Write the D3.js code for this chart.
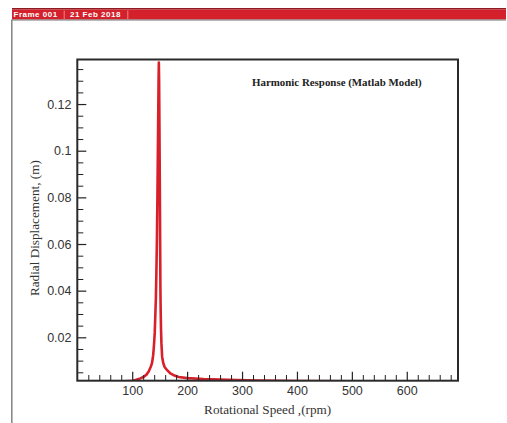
<!DOCTYPE html>
<html>
<head>
<meta charset="utf-8">
<script src="https://cdn.jsdelivr.net/npm/d3@7"></script>
<style>
  html, body { margin: 0; padding: 0; background: #fff; }
  svg { display: block; }
</style>
</head>
<body>
<svg id="chart" width="507" height="423"></svg>
<script>
// Harmonic response: radial displacement vs rotational speed
const rpm = [0, 40, 80, 100, 106, 115, 121, 126, 130, 134, 136, 138, 139, 140, 141, 142, 143, 144, 145, 146, 147, 148, 148.5,
             149, 149.6, 150.3, 150.9, 151.4, 151.8, 152.4, 153.2, 154.5, 156.5, 159, 164, 169.6, 177, 184.7, 200, 230, 260, 291, 330, 400, 500, 600, 693];
const displacement = [0.0004, 0.0006, 0.0010, 0.0014, 0.0017, 0.0024, 0.0031, 0.0040, 0.0053, 0.0075, 0.0089, 0.0120, 0.0146, 0.0180, 0.0219, 0.0288, 0.0360, 0.0470, 0.0620, 0.0820, 0.1060, 0.1300, 0.1378,
             0.1300, 0.1100, 0.0850, 0.0600, 0.0400, 0.0320, 0.0240, 0.0175, 0.0117, 0.0090, 0.0073, 0.0058, 0.0045, 0.0036, 0.0030, 0.0025, 0.0021, 0.0019, 0.0017, 0.0015, 0.0013, 0.0011, 0.0010, 0.0009];

const xMajorTicks = [100, 200, 300, 400, 500, 600];
const yMajorTicks = [0.02, 0.04, 0.06, 0.08, 0.1, 0.12];
const yTickLabels = ["0.02", "0.04", "0.06", "0.08", "0.1", "0.12"];

const frameLabel = "Frame 001";
const dateLabel = "21 Feb 2018";
const title = "Harmonic Response (Matlab Model)";
const xTitle = "Rotational Speed ,(rpm)";
const yTitle = "Radial Displacement, (m)";

const svg = d3.select("#chart");

// plot box
const L = 77.3, R = 458, T = 59.5, B = 380.7;

const x = d3.scaleLinear().domain([0, 693.3]).range([L, R]);
const y = d3.scaleLinear().domain([0.0014, 0.1391]).range([B, T]);

// frame header bar
const hdr = svg.append("g");
hdr.append("rect").attr("x", 12).attr("y", 8).attr("width", 494).attr("height", 1.6).attr("fill", "#8e1b21");
hdr.append("rect").attr("x", 12).attr("y", 9.6).attr("width", 494).attr("height", 10).attr("fill", "#d4202a");
hdr.append("rect").attr("x", 12).attr("y", 19.4).attr("width", 494).attr("height", 1.2).attr("fill", "#8a8a8a");
hdr.append("line").attr("x1", 11.8).attr("x2", 11.8).attr("y1", 19.4).attr("y2", 423)
  .attr("stroke", "#8a8a8a").attr("stroke-width", 1.6);
[64.2, 127.8].forEach(sx => {
  hdr.append("line").attr("x1", sx).attr("x2", sx).attr("y1", 10.5).attr("y2", 19)
    .attr("stroke", "#f0a0a4").attr("stroke-width", 0.8);
});
hdr.append("text").attr("x", 13.5).attr("y", 17.4).text(frameLabel)
  .attr("font-family", "Liberation Sans, Arial, sans-serif").attr("font-weight", "bold")
  .attr("font-size", 8).attr("letter-spacing", 0.5).attr("fill", "#fff");
hdr.append("text").attr("x", 70).attr("y", 17.4).text(dateLabel)
  .attr("font-family", "Liberation Sans, Arial, sans-serif").attr("font-weight", "bold")
  .attr("font-size", 8).attr("letter-spacing", 0.5).attr("fill", "#fff");

// curve, clipped to the plot box
svg.append("clipPath").attr("id", "plotclip")
  .append("rect").attr("x", L).attr("y", T).attr("width", R - L).attr("height", B - T);

const pts = rpm.map((r, i) => [r, displacement[i]]);
const line = d3.line().x(d => x(d[0])).y(d => y(d[1]));
svg.append("path").datum(pts)
  .attr("clip-path", "url(#plotclip)")
  .attr("d", line)
  .attr("fill", "none")
  .attr("stroke", "#d8202b")
  .attr("stroke-width", 2.6)
  .attr("stroke-linejoin", "round");

// axes with inward ticks
const tickColor = "#222";
const xMinor = d3.range(20, 693, 20).filter(v => v % 100 !== 0);
const yMinor = d3.range(1, 28).map(i => i * 0.005).filter(v => Math.abs(v / 0.02 - Math.round(v / 0.02)) > 1e-6 && v < 0.139);

const xAxisMajor = d3.axisBottom(x).tickValues(xMajorTicks).tickSize(-9).tickPadding(5).tickFormat(d3.format("d"));
const gx = svg.append("g").attr("transform", `translate(0,${B})`).call(xAxisMajor);
gx.select(".domain").remove();
gx.selectAll(".tick line").attr("stroke", tickColor).attr("stroke-width", 1.2);
gx.selectAll(".tick text").attr("font-family", "Liberation Sans, Arial, sans-serif")
  .attr("font-size", 12.5).attr("fill", "#333");

const gxm = svg.append("g").attr("transform", `translate(0,${B})`)
  .call(d3.axisBottom(x).tickValues(xMinor).tickSize(-5.7).tickFormat(""));
gxm.select(".domain").remove();
gxm.selectAll(".tick line").attr("stroke", tickColor).attr("stroke-width", 1);

const yAxisMajor = d3.axisLeft(y).tickValues(yMajorTicks).tickSize(-9).tickPadding(5.8)
  .tickFormat((d, i) => yTickLabels[i]);
const gy = svg.append("g").attr("transform", `translate(${L},0)`).call(yAxisMajor);
gy.select(".domain").remove();
gy.selectAll(".tick line").attr("stroke", tickColor).attr("stroke-width", 1.2);
gy.selectAll(".tick text").attr("font-family", "Liberation Sans, Arial, sans-serif")
  .attr("font-size", 12.5).attr("fill", "#333");

const gym = svg.append("g").attr("transform", `translate(${L},0)`)
  .call(d3.axisLeft(y).tickValues(yMinor).tickSize(-6).tickFormat(""));
gym.select(".domain").remove();
gym.selectAll(".tick line").attr("stroke", tickColor).attr("stroke-width", 1);

// plot border
svg.append("rect").attr("x", L).attr("y", T).attr("width", R - L).attr("height", B - T)
  .attr("fill", "none").attr("stroke", "#2a2a2a").attr("stroke-width", 2);

// titles
svg.append("text").attr("x", 252).attr("y", 86).text(title)
  .attr("font-family", "Liberation Serif, Times New Roman, serif").attr("font-weight", "bold")
  .attr("font-size", 10.9).attr("fill", "#222");

svg.append("text").attr("x", (L + R) / 2).attr("y", 413.5).attr("text-anchor", "middle").text(xTitle)
  .attr("font-family", "Liberation Serif, Times New Roman, serif")
  .attr("font-size", 13.2).attr("fill", "#333");

svg.append("text").attr("transform", `translate(38.5,${(T + B) / 2 + 8}) rotate(-90)`)
  .attr("text-anchor", "middle").text(yTitle)
  .attr("font-family", "Liberation Serif, Times New Roman, serif")
  .attr("font-size", 13.2).attr("fill", "#333");
</script>
</body>
</html>
